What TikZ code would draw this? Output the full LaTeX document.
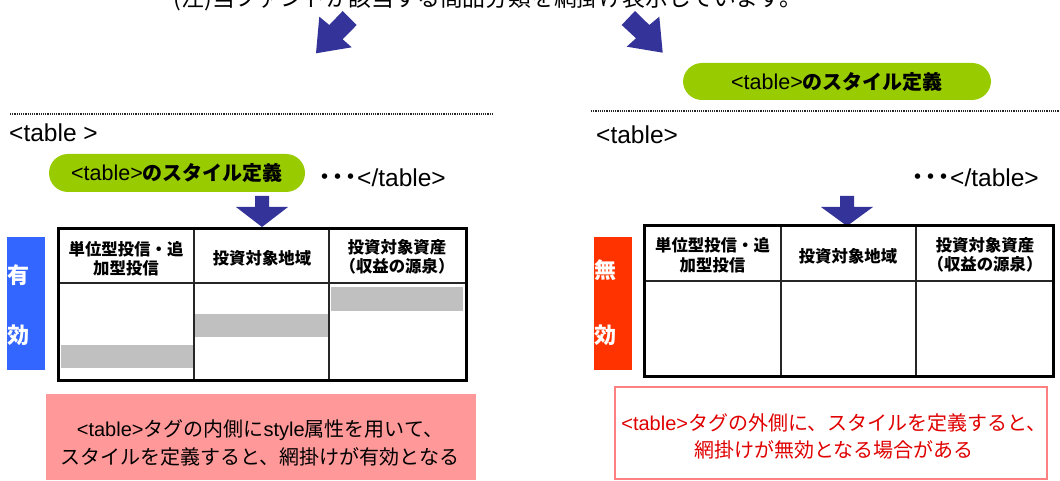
\documentclass[tikz,border=0pt]{standalone}
\usepackage{fontspec}
\setmainfont{Noto Sans CJK JP}
\newfontfamily\lat{Liberation Sans}
\newcommand\fsz[2]{\fontsize{#1pt}{#2pt}\selectfont}
\definecolor{arrowblue}{HTML}{333399}
\definecolor{pillgreen}{HTML}{99CC00}
\definecolor{effblue}{HTML}{3366FF}
\definecolor{effred}{HTML}{FF3300}
\definecolor{notepink}{HTML}{FF9999}
\definecolor{noteborder}{HTML}{FF8080}
\definecolor{notered}{HTML}{E00000}
\definecolor{barshade}{HTML}{C0C0C0}
\tikzset{
  pill/.style={fill=pillgreen, rounded corners=19pt, inner sep=0pt},
  dotline/.style={line width=1.2pt, color=black!85, dash pattern=on 1.2pt off 1pt},
  tableframe/.style={draw=black, line width=3pt, inner sep=0pt},
  innerline/.style={draw=black!85, line width=1.5pt},
  headtext/.style={font=\bfseries\fsz{16.4}{19.5}, align=center, inner sep=0pt},
  labelbox/.style={inner sep=0pt, minimum width=38pt, minimum height=133pt},
  labeltext/.style={font=\bfseries\fsz{22}{26}, text=white, inner sep=0pt},
}
\begin{document}
\begin{tikzpicture}[x=1pt,y=-1pt]
\useasboundingbox (0,0) rectangle (1060,481);
\clip (0,0) rectangle (1060,481);
\fill[white] (0,0) rectangle (1060,481);

% top note (cut off by the page edge, as in the reference)
\node[anchor=base, inner sep=0pt, font=\fsz{22.8}{27}] (topnote) at (488,6.5) {(注)当ファンドが該当する商品分類を網掛け表示しています。};

% slanted block arrows
\fill[arrowblue] (316,53.3) -- (319.3,16.7) -- (329.3,25) -- (342.7,11) -- (356.7,25) -- (342.7,39.3) -- (351.7,47.3) -- cycle;
\fill[arrowblue] (662.7,52.7) -- (659.3,16.7) -- (649.3,25) -- (635,11) -- (621.7,25) -- (636,38.3) -- (626.7,46.7) -- cycle;

% dotted separators
\draw[dotline] (10,114) -- (492,114);
\draw[dotline] (591,111) -- (1060,111);

%================ left panel ================
\node[anchor=west, inner sep=0pt, font=\lat\fsz{24.5}{29}] (openL) at (9,133) {<table >};
\node[pill, minimum width=256pt, minimum height=38pt] (pillL) at (177,173) {{\lat\fsz{21.5}{25}<table>}{\bfseries\fsz{20}{24}のスタイル定義}};
\node[anchor=west, inner sep=0pt] (closeL) at (318,178) {{\bfseries\fsz{26}{28}･･･}{\lat\fsz{24.5}{29}</table>}};
\fill[arrowblue] (255,196) -- (269,196) -- (269,207) -- (288,207) -- (262,227) -- (236,207) -- (255,207) -- cycle;

% shaded cells
\fill[barshade] (61,345) rectangle (194,368);
\fill[barshade] (194,314) rectangle (328,337);
\fill[barshade] (331,287) rectangle (463,311);
\draw[innerline] (194,229) -- (194,380);
\draw[innerline] (329,229) -- (329,380);
\draw[innerline] (58,283) -- (466,283);
\node[tableframe, minimum width=408pt, minimum height=151pt] (tabL) at (262,304.5) {};
\node[headtext] (hL1) at (126,258.5) {単位型投信・追\\加型投信};
\node[headtext] (hL2) at (262,258) {投資対象地域};
\node[headtext] (hL3) at (397,257) {投資対象資産\\（収益の源泉）};

\node[labelbox, fill=effblue] (yuko) at (26,303.5) {};
\node[labeltext] (yuko1) at (18,275) {有};
\node[labeltext] (yuko2) at (18,335) {効};

\node[fill=notepink, inner sep=0pt, minimum width=430pt, minimum height=86pt] (noteL) at (261,437) {};
\node[inner sep=0pt, align=center, font=\fsz{20}{28}] (noteLtext) at (260,443) {{\lat <table>}タグの内側に{\lat style}属性を用いて、\\スタイルを定義すると、網掛けが有効となる};

%================ right panel ================
\node[pill, minimum width=308pt, minimum height=37pt] (pillR) at (837,81.5) {{\lat\fsz{21.5}{25}<table>}{\bfseries\fsz{20}{24}のスタイル定義}};
\node[anchor=west, inner sep=0pt, font=\lat\fsz{24.5}{29}] (openR) at (596,135) {<table>};
\node[anchor=west, inner sep=0pt] (closeR) at (911,178) {{\bfseries\fsz{26}{28}･･･}{\lat\fsz{24.5}{29}</table>}};
\fill[arrowblue] (840,196) -- (854,196) -- (854,207) -- (873,207) -- (847,226) -- (821,207) -- (840,207) -- cycle;

\draw[innerline] (781,226) -- (781,376);
\draw[innerline] (916,226) -- (916,376);
\draw[innerline] (644,281) -- (1053,281);
\node[tableframe, minimum width=409pt, minimum height=150pt] (tabR) at (848.5,301) {};
\node[headtext] (hR1) at (712.5,255) {単位型投信・追\\加型投信};
\node[headtext] (hR2) at (848,256) {投資対象地域};
\node[headtext] (hR3) at (985,255) {投資対象資産\\（収益の源泉）};

\node[labelbox, fill=effred] (muko) at (613,303.5) {};
\node[labeltext] (muko1) at (605,270) {無};
\node[labeltext] (muko2) at (605,335) {効};

\node[draw=noteborder, line width=1.2pt, fill=white, inner sep=0pt, minimum width=432pt, minimum height=92pt] (noteR) at (831,433) {};
\node[inner sep=0pt, align=center, text=notered, font=\fsz{20}{27}] (noteRtext) at (834,436.5) {{\lat <table>}タグの外側に、スタイルを定義すると、\\網掛けが無効となる場合がある};
\end{tikzpicture}
\end{document}
